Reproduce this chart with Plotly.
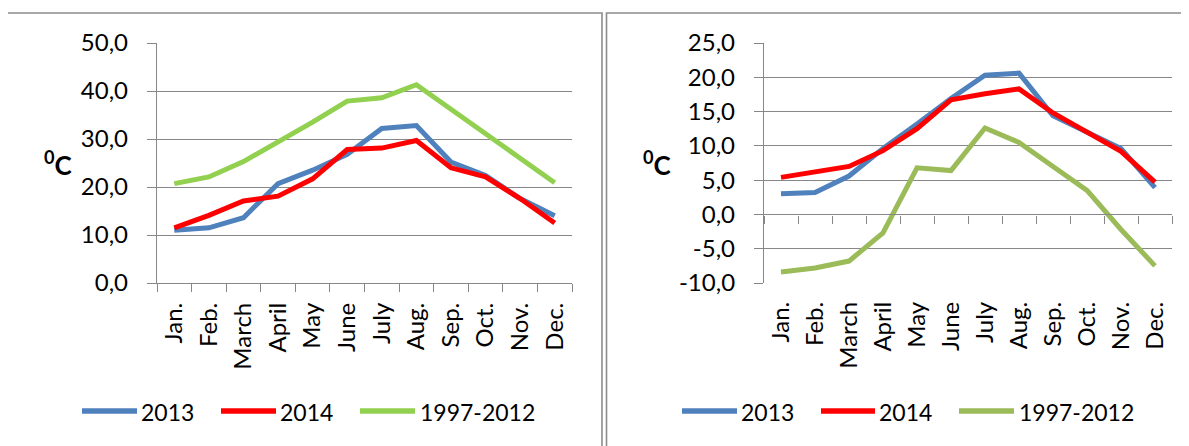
import plotly.graph_objects as go

months = ["Jan.", "Feb.", "March", "April", "May", "June", "July", "Aug.", "Sep.", "Oct.", "Nov.", "Dec."]
series_names = ["2013", "2014", "1997-2012"]

# Left chart values (°C)
left_2013 = [11.0, 11.5, 13.6, 20.7, 23.5, 26.8, 32.2, 32.8, 25.2, 22.4, 17.6, 14.0]
left_2014 = [11.5, 14.1, 17.1, 18.1, 21.7, 27.8, 28.1, 29.7, 24.0, 22.1, 17.6, 12.5]
left_1997_2012 = [20.7, 22.1, 25.3, 29.4, 33.5, 37.9, 38.6, 41.3, 36.3, 31.1, 26.0, 20.9]

# Right chart values (°C)
right_2013 = [3.0, 3.2, 5.6, 9.6, 13.2, 16.9, 20.3, 20.6, 14.4, 12.0, 9.6, 3.9]
right_2014 = [5.4, 6.2, 7.0, 9.3, 12.5, 16.7, 17.6, 18.3, 14.8, 12.0, 9.2, 4.7]
right_1997_2012 = [-8.4, -7.8, -6.8, -2.7, 6.8, 6.4, 12.6, 10.5, 7.0, 3.5, -2.2, -7.5]

left_ticks = [0, 10, 20, 30, 40, 50]
left_ticktext = ["0,0", "10,0", "20,0", "30,0", "40,0", "50,0"]
right_ticks = [-10, -5, 0, 5, 10, 15, 20, 25]
right_ticktext = ["-10,0", "-5,0", "0,0", "5,0", "10,0", "15,0", "20,0", "25,0"]

W, H = 1189, 446
OFF = 8  # default page body margin
FONT = "Lato"
FS = 24
GRID = "#878787"

left_colors = ["#4F81BD", "#FF0000", "#92D050"]
right_colors = ["#4F81BD", "#FF0000", "#9BBB59"]


def px(x):
    return (x - OFF) / W


def py(y):
    return 1 - (y - OFF) / H


fig = go.Figure()

for name, vals, col in zip(series_names, [left_2013, left_2014, left_1997_2012], left_colors):
    fig.add_trace(go.Scatter(x=months, y=vals, mode="lines", name=name,
                             line=dict(color=col, width=5), showlegend=False,
                             xaxis="x", yaxis="y"))
for name, vals, col in zip(series_names, [right_2013, right_2014, right_1997_2012], right_colors):
    fig.add_trace(go.Scatter(x=months, y=vals, mode="lines", name=name,
                             line=dict(color=col, width=5), showlegend=False,
                             xaxis="x2", yaxis="y2"))

ydom = [py(283), py(43)]
ldom = [px(157), px(572)]
rdom = [px(764), px(1172)]

tickfont = dict(family=FONT, size=FS, color="#000000")

common_x = dict(type="category", categoryorder="array", categoryarray=months,
                range=[-0.5, len(months) - 0.5], tickangle=-90, tickfont=tickfont,
                showgrid=False, zeroline=False, automargin=False)

zero_pos = ydom[0] + (0 - right_ticks[0]) / (right_ticks[-1] - right_ticks[0]) * (ydom[1] - ydom[0])

fig.update_layout(
    width=W, height=H,
    margin=dict(l=0, r=0, t=0, b=0, autoexpand=False),
    paper_bgcolor="white", plot_bgcolor="white",
    font=dict(family=FONT, size=FS, color="#000000"),
    xaxis=dict(**common_x, domain=ldom, anchor="y",
               showline=True, linecolor=GRID, linewidth=1.3,
               ticks="outside", tickson="boundaries", ticklen=8, tickwidth=1.3, tickcolor=GRID,
               ticklabelstandoff=9),
    yaxis=dict(domain=ydom, anchor="x", range=[left_ticks[0], left_ticks[-1]],
               tickvals=left_ticks, ticktext=left_ticktext, tickfont=tickfont,
               showgrid=True, gridcolor=GRID, gridwidth=1.3,
               showline=True, linecolor=GRID, linewidth=1.3,
               ticks="outside", ticklen=9, tickwidth=1.3, tickcolor=GRID,
               ticklabelstandoff=14, zeroline=False, automargin=False),
    xaxis2=dict(**common_x, domain=rdom, anchor="y2",
                showline=False, ticks="", ticklabelstandoff=13),
    xaxis3=dict(type="linear", overlaying="x2", anchor="free", position=zero_pos,
                range=[-0.5, len(months) - 0.5], tick0=-0.5, dtick=1,
                showticklabels=False, showgrid=False, zeroline=False, automargin=False,
                showline=True, linecolor=GRID, linewidth=1.3,
                ticks="outside", ticklen=8, tickwidth=1.3, tickcolor=GRID),
    yaxis2=dict(domain=ydom, anchor="x2", range=[right_ticks[0], right_ticks[-1]],
                tickvals=right_ticks, ticktext=right_ticktext, tickfont=tickfont,
                showgrid=True, gridcolor=GRID, gridwidth=1.3,
                showline=True, linecolor=GRID, linewidth=1.3,
                ticks="outside", ticklen=9, tickwidth=1.3, tickcolor=GRID,
                ticklabelstandoff=14, zeroline=False, automargin=False),
)

# invisible trace to activate xaxis3 (zero-line axis with tick marks)
fig.add_trace(go.Scatter(x=[0], y=[0], xaxis="x3", yaxis="y2", showlegend=False,
                         mode="markers", marker=dict(opacity=0), hoverinfo="skip"))

shapes = []
# Panel borders
shapes.append(dict(type="rect", xref="paper", yref="paper",
                   x0=px(7), x1=px(602), y0=-0.2, y1=py(13),
                   line=dict(color="#8C8C8C", width=1.6), fillcolor="rgba(0,0,0,0)", layer="below"))
shapes.append(dict(type="rect", xref="paper", yref="paper",
                   x0=px(606.5), x1=1.2, y0=-0.2, y1=py(13),
                   line=dict(color="#8C8C8C", width=1.6), fillcolor="rgba(0,0,0,0)", layer="below"))

annotations = []
# Unit labels
for xc in [58, 657]:
    annotations.append(dict(text="<b><sup>0</sup>C</b>", xref="paper", yref="paper",
                            x=px(xc), y=py(163), xanchor="center", yanchor="middle",
                            showarrow=False, font=dict(family=FONT, size=26, color="#000000")))

# Manual legends
legend_specs = [
    ([(82, 137), (221, 276), (360, 415)], [141, 280, 420], left_colors),
    ([(682, 737), (821, 875), (959, 1014)], [741, 879, 1019], right_colors),
]
for lines, texts, cols in legend_specs:
    for (a, b), tx, col, name in zip(lines, texts, cols, series_names):
        shapes.append(dict(type="line", xref="paper", yref="paper",
                           x0=px(a), x1=px(b), y0=py(411), y1=py(411),
                           line=dict(color=col, width=5.5)))
        annotations.append(dict(text=name, xref="paper", yref="paper",
                                x=px(tx), y=py(412), xanchor="left", yanchor="middle",
                                showarrow=False, xshift=-2,
                                font=dict(family=FONT, size=23, color="#000000")))

fig.update_layout(shapes=shapes, annotations=annotations)

fig.write_html("out.html")
